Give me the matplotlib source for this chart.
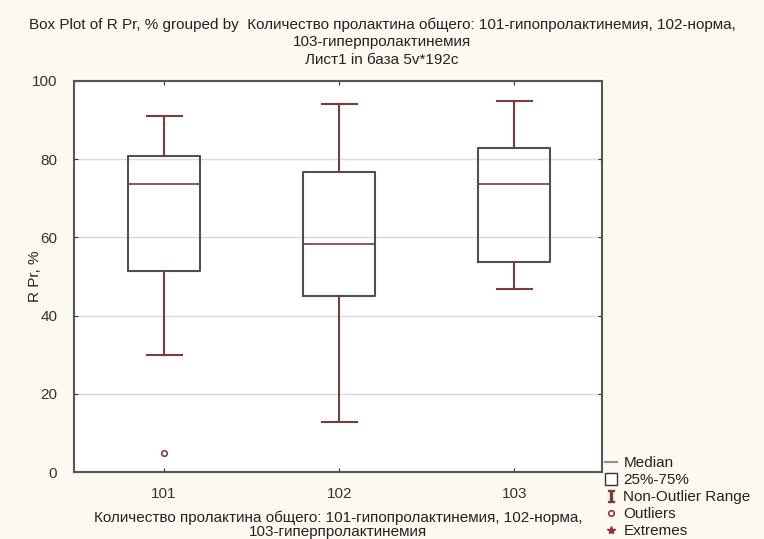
import matplotlib
matplotlib.use("Agg")
from matplotlib import pyplot as plt
from matplotlib.lines import Line2D

# group codes and box statistics for R Pr, %
groups = [101, 102, 103]
group_labels = ["101", "102", "103"]
whisker_low = [29.8, 12.9, 46.7]
q1 = [51.4, 45.0, 53.8]
median = [73.7, 58.2, 73.6]
q3 = [80.8, 76.6, 82.9]
whisker_high = [91.0, 94.0, 94.9]
outliers = [[4.8], [], []]

plt.rcParams["font.family"] = ["Liberation Sans", "DejaVu Sans"]

W, H = 764, 539
box_col = "#505050"
whisk_col = "#7a3c3c"
txt_col = "#222222"
bg = "#fdf9f1"
fs = 11

fig = plt.figure(figsize=(W / 100, H / 100), dpi=100, facecolor=bg)
ax = fig.add_axes([74 / W, 1 - 472 / H, (602 - 74) / W, (472 - 81) / H])
ax.set_facecolor("white")

stats = []
for i in range(len(groups)):
    stats.append({
        "whislo": whisker_low[i], "q1": q1[i], "med": median[i],
        "q3": q3[i], "whishi": whisker_high[i], "fliers": outliers[i],
        "label": group_labels[i],
    })

ax.bxp(stats, positions=groups, widths=0.41, showfliers=True,
       boxprops=dict(color=box_col, linewidth=1.5),
       medianprops=dict(color=whisk_col, linewidth=1.2),
       whiskerprops=dict(color=whisk_col, linewidth=1.5),
       capprops=dict(color=whisk_col, linewidth=1.5),
       capwidths=0.2,
       flierprops=dict(marker="o", markersize=4, markerfacecolor="none",
                       markeredgecolor="#8a3a4a", markeredgewidth=1.2))

ax.set_xlim(100.486, 103.5)
ax.set_ylim(0, 100)
ax.set_xticks(groups)
ax.set_xticklabels(group_labels)
ax.set_yticks([0, 20, 40, 60, 80, 100])
ax.yaxis.grid(True, color="#dadada", linewidth=1)
ax.set_axisbelow(True)
ax.tick_params(axis="both", which="both", direction="in", length=3,
               top=True, right=True, labelsize=fs, colors="#333333")
ax.tick_params(axis="y", pad=12)
ax.tick_params(axis="x", pad=11)
for s in ax.spines.values():
    s.set_color("#555555")
    s.set_linewidth(1.5)

ax.set_ylabel("R Pr, %", fontsize=fs, color=txt_col)
ax.yaxis.set_label_coords((42 - 74) / (602 - 74), 0.5)

# x-axis caption, two lines centred under the plot area
xc = (74 + 602) / 2 / W
fig.text(xc, 1 - 518 / H,
         "Количество пролактина общего: 101-гипопролактинемия, 102-норма,",
         ha="center", va="center", fontsize=fs, color=txt_col)
fig.text(xc, 1 - 532 / H, "103-гиперпролактинемия", ha="center",
         va="center", fontsize=fs, color=txt_col)

fig.text(0.5, 1 - 25 / H,
         "Box Plot of R Pr, % grouped by  Количество пролактина общего: "
         "101-гипопролактинемия, 102-норма,", ha="center", va="center",
         fontsize=fs, color=txt_col)
fig.text(0.5, 1 - 42 / H, "103-гиперпролактинемия", ha="center",
         va="center", fontsize=fs, color=txt_col)
fig.text(0.5, 1 - 60 / H, "Лист1 in база 5v*192c", ha="center",
         va="center", fontsize=fs, color=txt_col)

handles = [
    Line2D([], [], color="#909090", linewidth=1.5),
    Line2D([], [], linestyle="none", marker="s", markersize=9,
           markerfacecolor="white", markeredgecolor="#333333"),
    Line2D([], [], linestyle="none", marker=r"$\mathtt{I}$", markersize=9,
           color=whisk_col),
    Line2D([], [], linestyle="none", marker="o", markersize=4,
           markerfacecolor="none", markeredgecolor="#8a3a4a",
           markeredgewidth=1.2),
    Line2D([], [], linestyle="none", marker="*", markersize=6,
           color="#9a3040"),
]
labels = ["Median", "25%-75%", "Non-Outlier Range", "Outliers", "Extremes"]
fig.legend(handles, labels, loc="upper left",
           bbox_to_anchor=(605 / W, 1 - 456 / H), frameon=False,
           fontsize=fs, handlelength=0.8, handletextpad=0.4,
           labelspacing=0.2, borderaxespad=0, borderpad=0,
           labelcolor=txt_col)

fig.savefig("out.png", dpi=100, facecolor=bg)
